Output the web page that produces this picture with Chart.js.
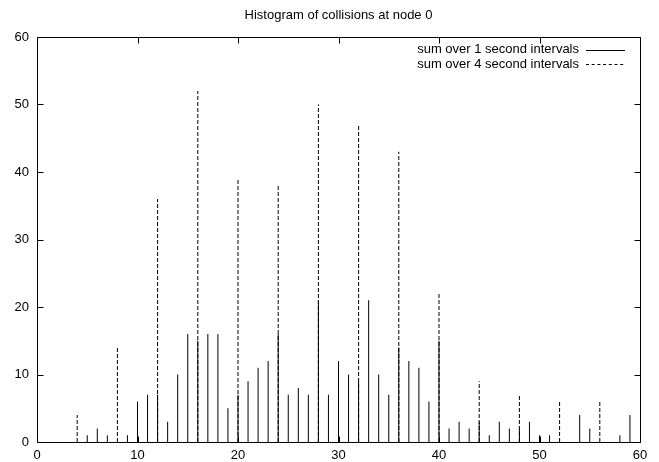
<!DOCTYPE html>
<html>
<head>
<meta charset="utf-8">
<script src="https://cdn.jsdelivr.net/npm/chart.js@4/dist/chart.umd.min.js"></script>
<style>
  html, body { margin: 0; padding: 0; background: #fff; }
  #wrap { width: 659px; height: 462px; position: relative; }
</style>
</head>
<body>
<div id="wrap"><canvas id="c" width="659" height="462"></canvas></div>
<script>
// ---- Data ----
const titleText = "Histogram of collisions at node 0";
const seriesNames = ["sum over 1 second intervals", "sum over 4 second intervals"];
const oneSecX = [4,5,6,7,8,9,10,11,12,13,14,15,16,17,18,19,20,21,22,23,24,25,26,27,28,29,30,31,32,33,34,35,36,37,38,39,40,41,42,43,44,45,46,47,48,49,50,51,52,53,54,55,56,57,58,59];
const oneSecY = [0,1,2,1,0,1,6,7,7,3,10,16,15,16,16,5,7,9,11,12,16,7,8,7,21,7,12,10,9,21,10,7,14,12,11,6,15,2,3,2,3,1,3,2,2,3,1,1,0,0,4,2,0,0,1,4];
const fourSecX = [4,8,12,16,20,24,28,32,36,40,44,48,52,56];
const fourSecY = [4,14,36,52,39,38,50,47,43,22,9,7,6,6];
const xTicks = [0,10,20,30,40,50,60];
const yTicks = [0,10,20,30,40,50,60];

function impulses(xs, ys) {
  const out = [];
  xs.forEach((x, i) => {
    out.push({x: x, y: 0});
    out.push({x: x, y: ys[i]});
    out.push({x: x, y: null});
  });
  return out;
}

const FONT = "Liberation Sans, Arial, Helvetica, sans-serif";
const FSIZE = 13;

const framePlugin = {
  id: 'frame',
  afterDatasetsDraw(chart) {
    const ctx = chart.ctx;
    const a = chart.chartArea;
    const xs = chart.scales.x, ys = chart.scales.y;
    ctx.save();
    ctx.strokeStyle = '#000';
    ctx.lineWidth = 1;
    ctx.setLineDash([]);
    const L = Math.round(a.left) + 0.5, R = Math.round(a.right) + 0.5;
    const T = Math.round(a.top) + 0.5, B = Math.round(a.bottom) + 0.5;
    ctx.strokeRect(L, T, R - L, B - T);
    const tl = 6;
    ctx.beginPath();
    xTicks.forEach(v => {
      const px = Math.round(xs.getPixelForValue(v)) + 0.5;
      ctx.moveTo(px, B); ctx.lineTo(px, B - tl);
      ctx.moveTo(px, T); ctx.lineTo(px, T + tl);
    });
    yTicks.forEach(v => {
      const py = Math.round(ys.getPixelForValue(v)) + 0.5;
      ctx.moveTo(L, py); ctx.lineTo(L + tl, py);
      ctx.moveTo(R, py); ctx.lineTo(R - tl, py);
    });
    ctx.stroke();

    // title
    ctx.fillStyle = '#000';
    ctx.font = FSIZE + 'px ' + FONT;
    ctx.textAlign = 'center';
    ctx.textBaseline = 'middle';
    ctx.fillText(titleText, (a.left + a.right) / 2, 15.5);

    // legend
    ctx.textAlign = 'right';
    const textRight = a.right - 61;
    const sampleL = a.right - 54, sampleR = a.right - 15;
    const rows = [a.top + 12.5, a.top + 27];
    const dashes = [[], [3, 2.7]];
    rows.forEach((y, i) => {
      ctx.fillText(seriesNames[i], textRight, y);
      ctx.setLineDash(dashes[i]);
      ctx.beginPath();
      ctx.moveTo(sampleL, Math.round(y) + 0.5);
      ctx.lineTo(sampleR, Math.round(y) + 0.5);
      ctx.stroke();
    });
    ctx.restore();
  }
};

new Chart(document.getElementById('c'), {
  type: 'line',
  data: {
    datasets: [
      {
        label: seriesNames[1],
        data: impulses(fourSecX, fourSecY),
        borderColor: '#000',
        borderWidth: 1,
        borderDash: [4, 2],
        pointRadius: 0,
        spanGaps: false,
        tension: 0
      },
      {
        label: seriesNames[0],
        data: impulses(oneSecX, oneSecY),
        borderColor: '#000',
        borderWidth: 1,
        pointRadius: 0,
        spanGaps: false,
        tension: 0
      }
    ]
  },
  options: {
    responsive: false,
    animation: false,
    devicePixelRatio: 1,
    layout: { padding: { left: 0, right: 19, top: 37, bottom: 0 } },
    plugins: { legend: { display: false }, title: { display: false }, tooltip: { enabled: false } },
    scales: {
      x: {
        type: 'linear',
        min: 0, max: 60,
        afterFit(s) { s.height = 20; },
        afterBuildTicks(s) { s.ticks = xTicks.map(v => ({value: v})); },
        grid: { display: false, drawTicks: false },
        border: { display: false },
        ticks: { color: '#000', font: { family: FONT, size: FSIZE }, padding: 6, maxRotation: 0 }
      },
      y: {
        type: 'linear',
        min: 0, max: 60,
        afterFit(s) { s.width = 37; },
        afterBuildTicks(s) { s.ticks = yTicks.map(v => ({value: v})); },
        grid: { display: false, drawTicks: false },
        border: { display: false },
        ticks: { color: '#000', font: { family: FONT, size: FSIZE }, padding: 8 }
      }
    }
  },
  plugins: [framePlugin]
});
</script>
</body>
</html>
